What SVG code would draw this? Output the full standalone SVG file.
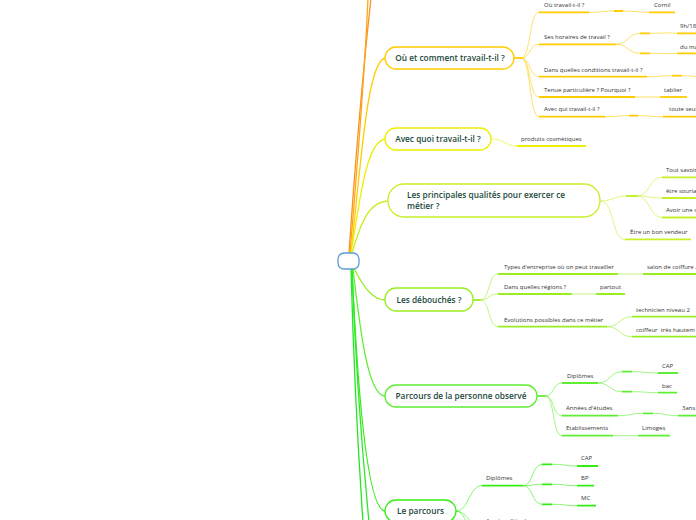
<svg xmlns="http://www.w3.org/2000/svg" width="696" height="520" viewBox="0 0 696 520">
<style>
.nd{fill:#fff;stroke-width:1.3}
.tt{font-family:"Open Sans","Liberation Sans",sans-serif;font-weight:600;font-size:8.3px;fill:#1b4a3b}
.st{font-family:"Open Sans","Liberation Sans",sans-serif;font-size:6px;fill:#333;white-space:pre}
.th{fill:none;stroke-width:0.9;opacity:0.65}
.ul{fill:none;stroke-width:1.8}
.mb{fill:none;stroke-width:1.3}
.c1{stroke:#ffcc00}.c2{stroke:#eeee00}.c3{stroke:#c8f028}.c4{stroke:#99ee22}.c5{stroke:#5eee33}.c6{stroke:#33ee11}
</style>
<rect width="696" height="520" fill="#fff"/>
<g id="connectors">
  <!-- main branches -->
  <path class="mb" stroke="#f7931e" d="M349,253 C354,180 362,80 371,-2"/>
  <path class="mb" stroke="#ffa41a" d="M350,253 C356,180 364,90 368,-2"/>
  <path class="mb c1" d="M351,253 C362,150 368,62 385,58"/>
  <path class="mb c2" d="M351,253 C360,200 366,142 385,139"/>
  <path class="mb c3" d="M352,253 C360,225 368,202 388,201"/>
  <path class="mb c4" d="M354,268 C362,285 372,300 385,300"/>
  <path class="mb c5" d="M353,269 C360,330 368,396 385,396"/>
  <path class="mb c6" d="M352,269 C358,400 368,510 385,511"/>
  <path class="mb" stroke="#22e622" d="M351,269 C354,380 358,450 363,522"/>
  <path class="mb" stroke="#2ee82e" d="M352,269 C356,380 362,450 369,522"/>

  <!-- Où et comment -->
  <path class="ul c1" d="M514,58 H521"/>
  <path class="th c1" d="M521,58 C531,58 529,12.3 539,12.3 M521,58 C531,58 529,44.3 539,44.3 M521,58 C531,58 529,76.7 539,76.7 M521,58 C531,58 529,97 539,97 M521,58 C531,58 529,116.7 539,116.7"/>
  <path class="ul c1" d="M539,12.3 H589 M539,44.3 H616 M539,76.7 H647 M539,97 H635 M539,116.7 H605"/>
  <path class="th c1" d="M589,12.3 C602,12.3 604,11 614,11 M623,11 C635,11 637,12.3 649,12.3"/>
  <path class="ul c1" d="M614,11 H623 M649,12.3 H675"/>
  <path class="th c1" d="M616,44.3 C628,44.3 628,33.3 640,33.3 M616,44.3 C628,44.3 628,53.3 640,53.3 M650,33.3 C662,33.3 665,32.5 677,33.3 M650,53.3 C662,53.3 665,54 677,53.3"/>
  <path class="ul c1" d="M640,33.3 H650 M640,53.3 H650 M677,33.3 H700 M677,53.3 H700"/>
  <path class="th c1" d="M647,76.7 C658,76.7 662,75.7 672,75.7 M682,75.7 C690,75.7 694,76.5 700,76.5"/>
  <path class="ul c1" d="M672,75.7 H682"/>
  <path class="th c1" d="M635,97 C645,97 650,97 660,97"/>
  <path class="ul c1" d="M660,97 H687"/>
  <path class="th c1" d="M605,116.7 C617,116.7 619,115.7 629,115.7 M638,115.7 C650,115.7 652,116.7 663,116.7"/>
  <path class="ul c1" d="M629,115.7 H638 M663,116.7 H700"/>

  <!-- Avec quoi -->
  <path class="th c2" d="M491,139 C505,139 505,146 517,146"/>
  <path class="ul c2" d="M517,146 H586"/>

  <!-- Principales qualités -->
  <path class="th c3" d="M600,201 C612,201 614,196 626,196 M637,196 C650,196 649,177.3 662,177.3 M637,196 C650,196 649,198 662,198 M637,196 C650,196 649,217.5 662,217.5 M600,201 C615,201 611,239.3 625,239.3"/>
  <path class="ul c3" d="M626,196 H637 M662,177.3 H700 M662,198 H700 M662,217.5 H700 M625,239.3 H691"/>

  <!-- Débouchés -->
  <path class="ul c4" d="M473,300 H480"/>
  <path class="th c4" d="M480,300 C490,300 488,274 498,274 M480,300 C490,300 488,294 498,294 M480,300 C490,300 488,326.7 498,326.7"/>
  <path class="ul c4" d="M498,274 H618 M498,294 H572 M498,326.7 H607"/>
  <path class="th c4" d="M618,274 C630,274 631,274 643,274 M572,294 C584,294 584,294 596,294 M607,326.7 C620,326.7 619,316.7 632,316.7 M607,326.7 C620,326.7 619,336.7 632,336.7"/>
  <path class="ul c4" d="M643,274 H700 M596,294 H625 M632,316.7 H700 M632,336.7 H700"/>

  <!-- Parcours de la personne observé -->
  <path class="ul c5" d="M537,396 H545"/>
  <path class="th c5" d="M545,396 C555,396 552,383 562,383 M545,396 C555,396 552,415.7 562,415.7 M545,396 C555,396 552,435.7 562,435.7"/>
  <path class="ul c5" d="M562,383 H598 M562,415.7 H618 M562,435.7 H613"/>
  <path class="th c5" d="M598,383 C610,383 610,371.7 622,371.7 M598,383 C610,383 610,391.7 622,391.7 M632,371.7 C645,371.7 646,373 658,373 M632,391.7 C645,391.7 646,392.7 658,392.7"/>
  <path class="ul c5" d="M622,371.7 H632 M622,391.7 H632 M658,373 H678 M658,392.7 H677"/>
  <path class="th c5" d="M618,415.7 C630,415.7 631,413.3 643,413.3 M653,413.3 C665,413.3 666,415.7 678,415.7 M613,435.7 C625,435.7 626,435.7 638,435.7"/>
  <path class="ul c5" d="M643,413.3 H653 M678,415.7 H700 M638,435.7 H670"/>

  <!-- Le parcours -->
  <path class="th c6" d="M456,511 C469,511 469,485.7 482,485.7 M456,511 C466,511 468,522 478,528 M456,511 C464,512 466,524 472,530"/>
  <path class="ul c6" d="M482,485.7 H523"/>
  <path class="th c6" d="M523,485.7 C533,485.7 532,464.3 542,464.3 M523,485.7 C533,485.7 532,484.3 542,484.3 M523,485.7 C533,485.7 532,504.3 542,504.3 M552,464.3 C565,464.3 565,466 577,466 M552,484.3 C565,484.3 565,485.7 577,485.7 M552,504.3 C565,504.3 565,505.7 577,505.7"/>
  <path class="ul c6" d="M542,464.3 H552 M542,484.3 H552 M542,504.3 H552 M577,466 H598 M577,485.7 H594 M577,505.7 H596"/>
</g>

<g id="root"><rect class="nd" x="338" y="253" width="21" height="16" rx="6" stroke="#5b9bd5"/></g>

<g id="n-ou">
  <rect class="nd c1" x="385" y="47" width="129" height="22" rx="11"/>
  <text class="tt" x="450" y="61" text-anchor="middle">Où et comment travail-t-il ?</text>
</g>
<g id="n-ou-1"><text class="st" x="544" y="7">Où travail-t-il ?</text></g>
<g id="n-ou-1a"><text class="st" x="654" y="7">Cornil</text></g>
<g id="n-ou-2"><text class="st" x="544" y="39">Ses horaires de travail ?</text></g>
<g id="n-ou-2a"><text class="st" x="680" y="28">9h/18</text></g>
<g id="n-ou-2b"><text class="st" x="680" y="48.5">du ma</text></g>
<g id="n-ou-3"><text class="st" x="544" y="71.5">Dans quelles conditions travail-t-il ?</text></g>
<g id="n-ou-4"><text class="st" x="544" y="91.5">Tenue particulière ? Pourquoi ?</text></g>
<g id="n-ou-4a"><text class="st" x="664" y="91.5">tablier</text></g>
<g id="n-ou-5"><text class="st" x="544" y="111">Avec qui travail-t-il ?</text></g>
<g id="n-ou-5a"><text class="st" x="669" y="111">toute seul</text></g>

<g id="n-avec">
  <rect class="nd c2" x="385" y="128" width="106" height="22" rx="11"/>
  <text class="tt" x="438" y="142" text-anchor="middle">Avec quoi travail-t-il ?</text>
</g>
<g id="n-avec-1"><text class="st" x="521" y="141">produits cosmétiques</text></g>

<g id="n-qual">
  <rect class="nd c3" x="388" y="184" width="212" height="33" rx="16"/>
  <text class="tt" x="407" y="198">Les principales qualités pour exercer ce</text>
  <text class="tt" x="407" y="209">métier ?</text>
</g>
<g id="n-qual-1"><text class="st" x="666" y="172">Tout savoir</text></g>
<g id="n-qual-2"><text class="st" x="666" y="192.5">être souria</text></g>
<g id="n-qual-3"><text class="st" x="666" y="212">Avoir une c</text></g>
<g id="n-qual-4"><text class="st" x="630" y="234">Être un bon vendeur</text></g>

<g id="n-deb">
  <rect class="nd c4" x="385" y="288" width="88" height="23" rx="11"/>
  <text class="tt" x="429" y="303" text-anchor="middle">Les débouchés ?</text>
</g>
<g id="n-deb-1"><text class="st" x="504" y="269">Types d'entreprise où on peut travailler</text></g>
<g id="n-deb-1a"><text class="st" x="647" y="269">salon de coiffure ,</text></g>
<g id="n-deb-2"><text class="st" x="504" y="289">Dans quelles régions ?</text></g>
<g id="n-deb-2a"><text class="st" x="600" y="289">partout</text></g>
<g id="n-deb-3"><text class="st" x="504" y="321.5">Evolutions possibles dans ce métier</text></g>
<g id="n-deb-3a"><text class="st" x="636" y="311.5">technicien niveau 2</text></g>
<g id="n-deb-3b"><text class="st" x="636" y="331.5" xml:space="preserve">coiffeur  très hautem</text></g>

<g id="n-pers">
  <rect class="nd c5" x="385" y="385" width="152" height="22" rx="11"/>
  <text class="tt" x="461" y="399" text-anchor="middle">Parcours de la personne observé</text>
</g>
<g id="n-pers-1"><text class="st" x="567" y="378">Diplômes</text></g>
<g id="n-pers-1a"><text class="st" x="662" y="367.5">CAP</text></g>
<g id="n-pers-1b"><text class="st" x="662" y="388">bac</text></g>
<g id="n-pers-2"><text class="st" x="566" y="410">Années d'études</text></g>
<g id="n-pers-2a"><text class="st" x="682" y="410">3ans</text></g>
<g id="n-pers-3"><text class="st" x="566" y="430">Etablissements</text></g>
<g id="n-pers-3a"><text class="st" x="642" y="430">Limoges</text></g>

<g id="n-parc">
  <rect class="nd c6" x="385" y="500" width="71" height="22" rx="11"/>
  <text class="tt" x="420.5" y="514" text-anchor="middle">Le parcours</text>
</g>
<g id="n-parc-1"><text class="st" x="486" y="480">Diplômes</text></g>
<g id="n-parc-1a"><text class="st" x="581" y="460">CAP</text></g>
<g id="n-parc-1b"><text class="st" x="581" y="480">BP</text></g>
<g id="n-parc-1c"><text class="st" x="581" y="500">MC</text></g>
<g id="n-parc-2"><text class="st" x="486" y="523">Années d'études</text></g>
</svg>
